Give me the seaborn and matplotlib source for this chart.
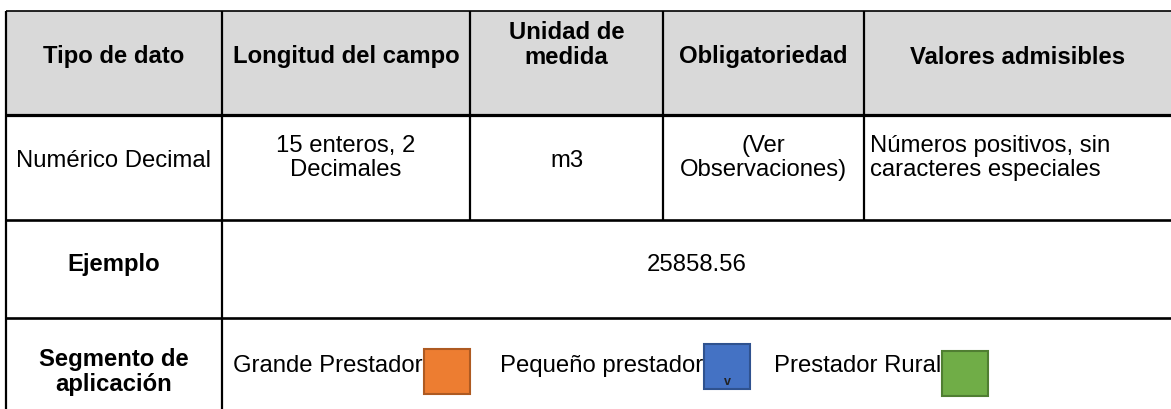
import matplotlib
matplotlib.use("Agg")
import matplotlib.pyplot as plt
from matplotlib.patches import Rectangle
import seaborn as sns

# contenido de la tabla
encabezados = ["Tipo de dato", "Longitud del campo", "Unidad de\nmedida",
               "Obligatoriedad", "Valores admisibles"]
fila_datos = ["Numérico Decimal", "15 enteros, 2\nDecimales", "m3",
              "(Ver\nObservaciones)", "Números positivos, sin\ncaracteres especiales"]
etiqueta_ejemplo = "Ejemplo"
valor_ejemplo = "25858.56"
etiqueta_segmento = "Segmento de\naplicación"
segmentos = ["Grande Prestador", "Pequeño prestador", "Prestador Rural"]
colores_segmento = ["#ED7D31", "#4472C4", "#70AD47"]
bordes_segmento = ["#AE5A21", "#2F528F", "#507E32"]

sns.set_theme(style="white")
plt.rcParams['font.family'] = ['Liberation Sans', 'DejaVu Sans']
plt.rcParams['text.color'] = 'black'

W, H = 1171, 409
fig = plt.figure(figsize=(W / 100, H / 100), dpi=100)
ax = fig.add_axes([0, 0, 1, 1])
ax.set_xlim(0, W)
ax.set_ylim(H, 0)
ax.axis("off")

# rejilla (pixeles)
cols = [6, 222, 470, 663, 864, 1172]
filas = [11, 115, 220, 318, 420]
fs = 17.2
ls = 1.12

# fondo gris del encabezado
ax.add_patch(Rectangle((cols[0], filas[0]), cols[-1] - cols[0], filas[1] - filas[0],
                       facecolor="#D9D9D9", edgecolor="none", zorder=0))

# lineas horizontales
ax.hlines(filas[0], cols[0], cols[-1], color="black", lw=1.2)
ax.hlines(filas[1], cols[0], cols[-1], color="black", lw=2.3)
ax.hlines(filas[2], cols[0], cols[-1], color="black", lw=1.9)
ax.hlines(filas[3], cols[0], cols[-1], color="black", lw=1.9)

# lineas verticales
ax.vlines(cols[0], filas[0], filas[-1], color="black", lw=1.6)
ax.vlines(cols[1], filas[0], filas[-1], color="black", lw=1.6)
for c in cols[2:5]:
    ax.vlines(c, filas[0], filas[2], color="black", lw=1.6)

# encabezado
for i, txt in enumerate(encabezados):
    cx = (cols[i] + cols[i + 1]) / 2
    y = 45 if "\n" in txt else 57
    ax.text(cx, y, txt, ha="center", va="center", fontsize=fs, fontweight="bold",
            linespacing=ls)

# fila de datos
for i, txt in enumerate(fila_datos):
    y = 158 if "\n" in txt else 161
    if i == 4:
        ax.text(cols[i] + 6, y, txt, ha="left", va="center", fontsize=fs,
                linespacing=ls)
    else:
        cx = (cols[i] + cols[i + 1]) / 2
        ax.text(cx, y, txt, ha="center", va="center", fontsize=fs,
                linespacing=ls)

# ejemplo
ax.text((cols[0] + cols[1]) / 2, 265, etiqueta_ejemplo, ha="center", va="center",
        fontsize=fs, fontweight="bold")
ax.text((cols[1] + cols[-1]) / 2, 265, valor_ejemplo, ha="center", va="center",
        fontsize=fs)

# segmento de aplicacion
ax.text((cols[0] + cols[1]) / 2, 372, etiqueta_segmento, ha="center", va="center",
        fontsize=fs, fontweight="bold", linespacing=ls)

x_texto = [233, 500, 774]
y_caja = [349, 344, 351]
fig.canvas.draw()
inv = ax.transData.inverted()
cajas = []
for txt, xt, yc, col, bc in zip(segmentos, x_texto, y_caja,
                                colores_segmento, bordes_segmento):
    t = ax.text(xt, 366, txt, ha="left", va="center", fontsize=fs)
    bb = t.get_window_extent(renderer=fig.canvas.get_renderer())
    x_fin = inv.transform((bb.x1, bb.y0))[0]
    ax.add_patch(Rectangle((x_fin + 1, yc), 46, 45, facecolor=col, edgecolor=bc, lw=1.5))
    cajas.append(x_fin + 1)
ax.text(cajas[1] + 23, 382, "v", ha="center", va="center", fontsize=9,
        fontweight="bold", color="#222222")

fig.savefig("out.png", dpi=100)
